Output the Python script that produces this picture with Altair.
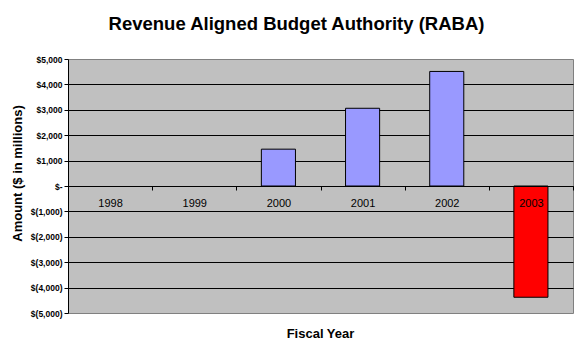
import altair as alt
import pandas as pd

years = ["1998", "1999", "2000", "2001", "2002", "2003"]
amounts = [0, 0, 1450, 3060, 4510, -4380]
y_ticks = [5000, 4000, 3000, 2000, 1000, 0, -1000, -2000, -3000, -4000, -5000]

df = pd.DataFrame({"year": years, "amount": amounts})

FONT = "Liberation Sans"

label_expr = (
    "datum.value == 0 ? '$-' : (datum.value < 0 ? '$(' + format(-datum.value, ',') + ')'"
    " : '$' + format(datum.value, ','))"
)

chart = (
    alt.Chart(df)
    .transform_filter("datum.amount != 0")
    .mark_bar(stroke="black", strokeWidth=1, width=alt.RelativeBandSize(0.405))
    .encode(
        x=alt.X(
            "year:N",
            sort=years,
            scale=alt.Scale(domain=years, paddingInner=0, paddingOuter=0),
            axis=alt.Axis(
                title="Fiscal Year",
                titleFont=FONT,
                titleFontSize=13,
                titleFontWeight="bold",
                titleColor="black",
                titleY=141,
                titleX=252,
                labelFont=FONT,
                labelFontSize=11,
                labelColor="black",
                labelAngle=0,
                labelPadding=7,
                tickBand="extent",
                tickSize=4,
                tickColor="black",
                domainColor="black",
                offset=-127,
                grid=False,
                zindex=1,
            ),
        ),
        y=alt.Y(
            "amount:Q",
            scale=alt.Scale(domain=[-5000, 5000], nice=False, zero=False),
            axis=alt.Axis(
                values=y_ticks,
                labelExpr=label_expr,
                labelFont=FONT,
                labelFontSize=8.5,
                labelFontWeight="bold",
                labelColor="black",
                labelPadding=2,
                tickSize=4,
                tickColor="black",
                domainColor="black",
                gridColor={
                    "condition": {"test": "abs(datum.value) == 5000", "value": "transparent"},
                    "value": "black",
                },
                gridOpacity=1,
                title="Amount ($ in millions)",
                titleFont=FONT,
                titleFontSize=13,
                titleFontWeight="bold",
                titleColor="black",
                titleAngle=-90,
                titleAlign="center",
                titleBaseline="middle",
                titleX=-51,
                titleY=114,
            ),
        ),
        color=alt.condition(
            alt.datum.amount < 0, alt.value("#FF0000"), alt.value("#9999FF")
        ),
    )
    .properties(
        width=505,
        height=254,
        autosize=alt.AutoSizeParams(type="none"),
        padding={"left": 68, "top": 59, "right": 8, "bottom": 28},
        background="white",
        title=alt.TitleParams(
            "Revenue Aligned Budget Authority (RABA)",
            font=FONT,
            fontSize=18.5,
            fontWeight="bold",
            color="black",
            anchor="middle",
            frame="group",
            dx=-24,
            offset=22,
        ),
    )
    .configure_view(fill="#C0C0C0", stroke="#808080", strokeWidth=1)
)

chart.save("out.html", embed_options={"renderer": "svg", "actions": False})
